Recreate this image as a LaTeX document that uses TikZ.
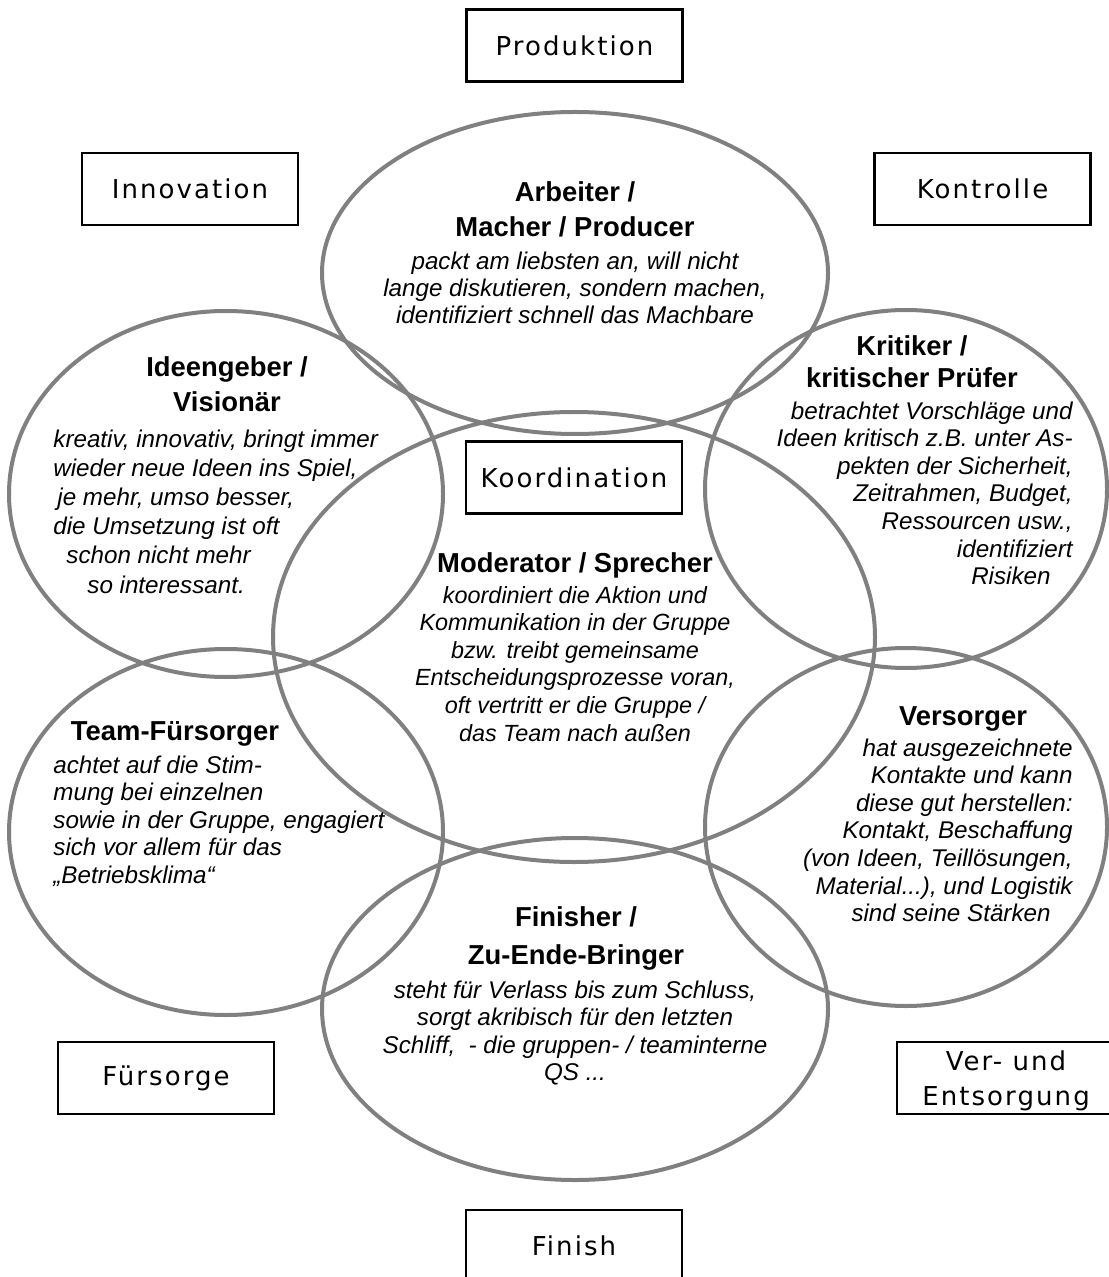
\documentclass[tikz,border=0pt]{standalone}
\usepackage{fontspec}
\setmainfont{Liberation Sans}
\newfontfamily\boxfont[LetterSpace=8]{DejaVu Sans}
\definecolor{ellgray}{RGB}{128,128,128}
\begin{document}
\begin{tikzpicture}[x=0.5pt,y=-0.5pt,
  ell/.style={draw=ellgray,line width=2pt},
  lbl/.style={draw=black,fill=white,line width=1.1pt,minimum width=108pt,minimum height=36pt,inner sep=0pt,align=center,font=\boxfont\fontsize{13}{17.5}\selectfont},
  lbltext/.style={inner sep=0pt,align=center,font=\boxfont\fontsize{13}{17.5}\selectfont},
  ttl/.style={inner sep=0pt,align=center,font=\bfseries\fontsize{13.7}{17.5}\selectfont},
  txt/.style={inner sep=0pt,font=\itshape\fontsize{12.1}{13.8}\selectfont}]
\useasboundingbox (0,0) rectangle (1108,1277);
% ellipses
\draw[ell] (575,273) ellipse [x radius=253, y radius=161];
\draw[ell] (226,494) ellipse [x radius=217, y radius=183];
\draw[ell] (906,489) ellipse [x radius=201, y radius=179];
\draw[ell] (574,637) ellipse [x radius=301, y radius=225];
\draw[ell] (226,832) ellipse [x radius=217, y radius=183];
\draw[ell] (906,827) ellipse [x radius=201, y radius=179];
\draw[ell] (575,1009) ellipse [x radius=253, y radius=171];
% boxes
\node[lbl] (prod) at (574.5,45.5) {Produktion};
\node[lbl] (inno) at (190,189) {Innovation};
\node[lbl] (kontr) at (982.5,189) {Kontrolle};
\node[lbl] (koord) at (574,477.5) {Koordination};
\node[lbl] (fuer) at (166,1078) {Fürsorge};
\node[lbl] (verent) at (1005,1078) {};
\node[lbltext,anchor=base] (verentT) at (1006,1105) {Ver- und\\Entsorgung};
\node[lbl] (fin) at (574,1246) {Finish};
% Arbeiter (base anchor = last line baseline)
\node[ttl,anchor=base] (arbT) at (575,237) {Arbeiter /\\Macher / Producer};
\node[txt,anchor=base,align=center,font=\itshape\fontsize{12.1}{13.4}\selectfont] (arbX) at (575,323.6)
  {packt am liebsten an, will nicht\\lange diskutieren, sondern machen,\\identifiziert schnell das Machbare};
% Ideengeber
\node[ttl,anchor=base] (ideT) at (227,412) {Ideengeber /\\Visionär};
\node[txt,anchor=base west,align=left,font=\itshape\fontsize{12.1}{14.6}\selectfont] (ideX) at (53,593)
  {kreativ, innovativ, bringt immer\\wieder neue Ideen ins Spiel,\\\hspace*{2pt}je mehr, umso besser,\\die Umsetzung ist oft\\\hspace*{6.5pt}schon nicht mehr\\\hspace*{17pt}so interessant.};
% Kritiker
\node[ttl,anchor=base,font=\bfseries\fontsize{13.7}{16}\selectfont] (kriT) at (912,388) {Kritiker /\\kritischer Prüfer};
\node[txt,anchor=base east,align=right] (kriX) at (1073,584.6)
  {betrachtet Vorschläge und\\Ideen kritisch z.B. unter As-\\pekten der Sicherheit,\\Zeitrahmen, Budget,\\Ressourcen usw.,\\identifiziert\\Risiken\hspace*{11pt}};
% Moderator
\node[ttl,anchor=base] (modT) at (575,572) {Moderator / Sprecher};
\node[txt,anchor=base,align=center,font=\itshape\fontsize{11.7}{13.8}\selectfont] (modX) at (575,741)
  {koordiniert die Aktion und\\Kommunikation in der Gruppe\\bzw. treibt gemeinsame\\Entscheidungsprozesse voran,\\oft vertritt er die Gruppe /\\das Team nach außen};
% Team-Fürsorger
\node[ttl,anchor=base] (teaT) at (175,740) {Team-Fürsorger};
\node[txt,anchor=base west,align=left] (teaX) at (53,883.4)
  {achtet auf die Stim-\\mung bei einzelnen\\sowie in der Gruppe, engagiert\\sich vor allem für das\\„Betriebsklima“};
% Versorger
\node[ttl,anchor=base] (verT) at (963,725) {Versorger};
\node[txt,anchor=base east,align=right] (verX) at (1073,921.6)
  {hat ausgezeichnete\\Kontakte und kann\\diese gut herstellen:\\Kontakt, Beschaffung\\(von Ideen, Teillösungen,\\Material...), und Logistik\\sind seine Stärken\hspace*{11pt}};
% Finisher
\node[ttl,anchor=base,font=\bfseries\fontsize{13.7}{19}\selectfont] (finT) at (576,964) {Finisher /\\Zu-Ende-Bringer};
\node[txt,anchor=base,align=center] (finX) at (575,1080.8)
  {steht für Verlass bis zum Schluss,\\sorgt akribisch für den letzten\\Schliff,~ - die gruppen- / teaminterne\\QS ...};
\end{tikzpicture}
\end{document}
